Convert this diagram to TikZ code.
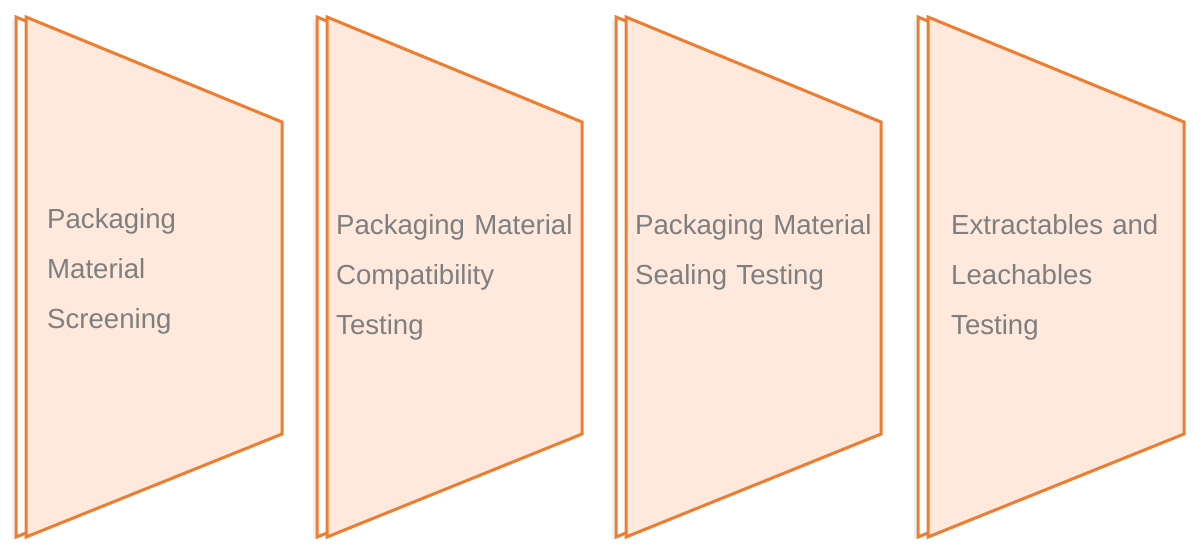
\documentclass[tikz,border=0pt]{standalone}
\usepackage{fontspec}
\setmainfont{Liberation Sans}
\definecolor{edge}{HTML}{ED7D31}
\definecolor{panel}{HTML}{FEE9DC}
\definecolor{txt}{HTML}{7F7F7F}
\tikzset{
  frontpanel/.style={draw=edge, fill=panel, line width=3pt, line join=miter},
  backpanel/.style={draw=edge, fill=white, line width=3pt, line join=miter},
  label/.style={anchor=base west, inner sep=0pt, text=txt, text width=270pt, align=left,
    font=\fontsize{27.6}{50}\selectfont}
}
\begin{document}
\begin{tikzpicture}[x=1pt,y=-1pt]
\useasboundingbox (0,0) rectangle (1204,557);
\foreach \L/\R in {26/282, 327/582, 626/881, 928/1184}{
  \fill[black,opacity=0.06] (\L-14,19) -- (\R-10,124) -- (\R-10,436) -- (\L-14,539) -- cycle;
  \draw[backpanel] (\L-10,17) -- (\R-10,122) -- (\R-10,434) -- (\L-10,537) -- cycle;
  \draw[frontpanel] (\L,17) -- (\R,122) -- (\R,434) -- (\L,537) -- cycle;
}
\node[label] (t1) at (47,228) {Packaging\\Material\\Screening};
\node[label] (t2) at (336,234) {Packaging Material\\Compatibility\\Testing};
\node[label] (t3) at (635,234) {Packaging Material\\Sealing Testing};
\node[label] (t4) at (951,234) {Extractables and\\Leachables\\Testing};
\end{tikzpicture}
\end{document}
